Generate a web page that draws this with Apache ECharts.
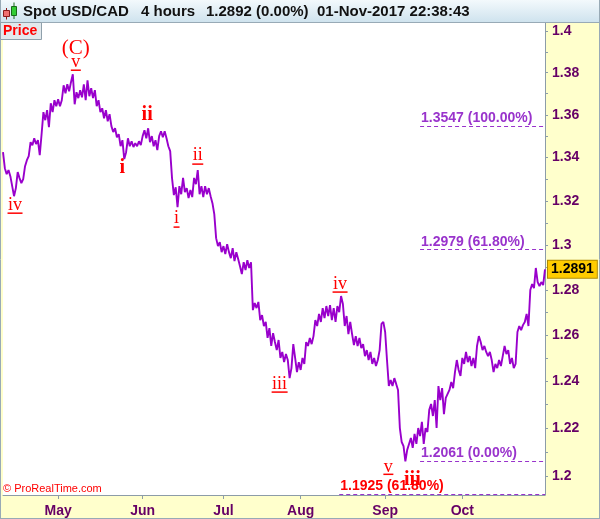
<!DOCTYPE html>
<html><head><meta charset="utf-8">
<script src="https://cdn.jsdelivr.net/npm/echarts@6/dist/echarts.min.js"></script>
<style>html,body{margin:0;padding:0;background:#ffffcc;}#c{width:600px;height:519px;}</style>
</head><body><div id="c"></div>
<script>
// ---------- data ----------
const HEADER_TEXT = ['Spot USD/CAD', '4 hours', '1.2892 (0.00%)', '01-Nov-2017 22:38:43'];
const PANEL_LABEL = 'Price';
const COPYRIGHT = '\u00a9 ProRealTime.com';
const MONTHS = ['Jan','Feb','Mar','Apr','May','Jun','Jul','Aug','Sep','Oct','Nov','Dec'];
const LABELLED_MONTHS = ['05','06','07','08','09','10'];
const FIRST_DAY = '2017-04-10';
const LAST_DAY = '2017-11-01';
const SESSIONS = ['00:00', '12:00'];

const PRICES = [
1.3425,1.3351,1.3323,1.3342,1.3314,1.3306,1.3222,1.3259,1.3333,1.3305,
1.3282,1.3300,1.3360,1.3388,1.3407,1.3472,1.3458,1.3490,1.3463,1.3481,
1.3411,1.3509,1.3613,1.3575,1.3622,1.3542,1.3655,1.3613,1.3669,1.3641,
1.3674,1.3641,1.3669,1.3740,1.3702,1.3745,1.3712,1.3755,1.3793,1.3650,
1.3707,1.3679,1.3717,1.3683,1.3745,1.3669,1.3764,1.3688,1.3726,1.3679,
1.3717,1.3641,1.3669,1.3613,1.3631,1.3584,1.3622,1.3570,1.3603,1.3547,
1.3519,1.3537,1.3495,1.3509,1.3453,1.3481,1.3393,1.3425,1.3490,1.3453,
1.3476,1.3449,1.3467,1.3453,1.3476,1.3458,
1.3500,1.3528,1.3490,1.3537,1.3472,1.3500,1.3453,1.3481,1.3435,1.3500,
1.3523,1.3495,1.3523,1.3490,1.3453,1.3430,1.3305,1.3227,1.3263,1.3172,
1.3268,1.3231,1.3306,1.3241,1.3259,1.3213,1.3250,1.3218,1.3306,1.3277,
1.3342,1.3231,1.3268,1.3218,1.3268,1.3231,1.3259,1.3222,1.3190,1.3140,
1.3031,1.2995,1.3013,1.2968,1.2995,1.2959,1.3004,1.2968,1.2941,1.2986,
1.2928,1.2968,1.2937,1.2905,1.2870,1.2923,1.2888,1.2932,1.2897,1.2923,
1.2710,1.2741,1.2719,1.2746,1.2666,1.2688,1.2640,1.2658,1.2588,1.2631,
1.2553,1.2609,
1.2570,1.2535,1.2579,1.2501,1.2527,1.2483,1.2518,1.2492,1.2414,1.2457,
1.2561,1.2501,1.2440,1.2483,1.2449,1.2501,1.2475,1.2570,1.2553,1.2588,
1.2561,1.2596,1.2666,1.2640,1.2693,1.2658,1.2719,1.2675,1.2728,1.2684,
1.2732,1.2666,1.2719,1.2658,1.2728,1.2701,1.2772,1.2737,1.2640,1.2684,
1.2605,1.2658,1.2605,1.2557,1.2596,1.2553,1.2588,1.2544,1.2561,1.2509,
1.2535,1.2492,1.2527,1.2475,1.2501,1.2466,1.2492,1.2535,1.2649,1.2658,
1.2614,1.2492,1.2380,1.2406,1.2380,1.2414,1.2389,1.2363,1.2201,1.2142,
1.2125,1.2061,1.2109,1.2134,
1.2159,1.2117,1.2176,1.2134,1.2201,1.2167,1.2227,1.2134,1.2201,1.2184,
1.2278,1.2303,1.2252,1.2320,1.2201,1.2380,1.2320,1.2371,1.2260,1.2329,
1.2346,1.2363,1.2397,1.2371,1.2440,1.2492,1.2449,1.2423,1.2501,1.2475,
1.2527,1.2483,1.2509,1.2466,1.2501,1.2457,1.2553,1.2596,1.2570,1.2535,
1.2553,1.2527,1.2509,1.2527,1.2492,1.2440,1.2475,1.2457,1.2492,1.2466,
1.2509,1.2553,1.2518,1.2535,1.2475,1.2501,1.2457,1.2475,1.2614,1.2640,
1.2622,1.2644,1.2658,1.2693,1.2640,1.2799,1.2825,1.2807,1.2897,1.2834,
1.2816,1.2834,1.2821,1.2891
];

const Y_LABELS = [1.2,1.22,1.24,1.26,1.28,1.3,1.32,1.34,1.36,1.38,1.4];
const Y_TICKS = [1.2,1.21,1.22,1.23,1.24,1.25,1.26,1.27,1.28,1.29,1.3,1.31,1.32,1.33,1.34,1.35,1.36,1.37,1.38,1.39,1.4];
const Y_MIN = 1.1921, Y_MAX = 1.404;

const FIB_PRICE = [1.3547, 1.2979, 1.2061, 1.1925];
const FIB_PCT = ['100.00%', '61.80%', '0.00%', '61.80%'];
const FIB_FROM = ['2017-09-14 12:00', '2017-09-14 12:00', '2017-09-14 12:00', '2017-08-15 12:00'];

const WAVE_TEXT = ['(C)', 'v', 'ii', 'i', 'ii', 'i', 'iv', 'iv', 'iii', 'v', 'iii'];
const WAVE_DATE = ['2017-05-05 00:00','2017-05-05 00:00','2017-06-02 12:00','2017-05-25 00:00','2017-06-22 00:00',
  '2017-06-14 12:00','2017-04-13 00:00','2017-08-16 00:00','2017-07-27 00:00','2017-09-08 12:00','2017-09-08 12:00'];
const WAVE_PRICE = [1.3793,1.3793,1.3537,1.3393,1.3342,1.3172,1.3222,1.2772,1.2414,1.2061,1.2061];

// ---------- styles (pixel offsets of the wave labels) ----------
const WAVE_STYLE = [
  {dx: 3, dy: -26, size: 21},
  {dx: 3, dy: -12, size: 18, u: 10, uy: -4},
  {dx: -1, dy: -13, size: 20, bold: true},
  {dx: -2, dy: 9, size: 20, bold: true},
  {dx: 0, dy: -15, size: 18, u: 11, uy: -6},
  {dx: -1, dy: 11, size: 18, u: 6, uy: 20},
  {dx: 1, dy: 9, size: 18, u: 15, uy: 17},
  {dx: -1, dy: -12, size: 18, u: 15, uy: -4},
  {dx: -10, dy: 6, size: 18, u: 16, uy: 14},
  {dx: -17, dy: 6, size: 18, u: 10, uy: 13},
  {dx: 7, dy: 19, size: 20, bold: true}
];
const AXIS_TXT = '#660066';
const SANS = '"Liberation Sans", Arial, sans-serif';
const SERIF = '"Liberation Serif", "Times New Roman", serif';

// ---------- category axis: trading sessions ----------
function buildSessions() {
  const out = [];
  const d = new Date(FIRST_DAY + 'T00:00:00Z');
  const end = new Date(LAST_DAY + 'T00:00:00Z').getTime();
  while (d.getTime() <= end) {
    const wd = d.getUTCDay();
    if (wd !== 0 && wd !== 6) {
      const s = d.toISOString().slice(0, 10);
      SESSIONS.forEach(h => out.push(s + ' ' + h));
    }
    d.setUTCDate(d.getUTCDate() + 1);
  }
  return out;
}
const CATS = buildSessions();
const monthStart = CATS.map((c, i) => i > 0 && c.slice(5, 7) !== CATS[i - 1].slice(5, 7)
  && LABELLED_MONTHS.indexOf(c.slice(5, 7)) >= 0);
const isMonthStart = (i) => !!monthStart[i];

const fibData = FIB_PRICE.map((p, k) => [
  {
    coord: [FIB_FROM[k], p],
    label: {
      formatter: p.toFixed(4) + ' (' + FIB_PCT[k] + ')',
      color: k === 3 ? '#ff0000' : '#9933cc'
    }
  },
  { coord: [CATS[CATS.length - 1], p] }
]);

const chart = echarts.init(document.getElementById('c'), null, {renderer: 'canvas'});
chart.setOption({
  animation: false,
  backgroundColor: '#ffffcc',
  grid: {left: 3, right: 55, top: 23, bottom: 24, show: true, backgroundColor: '#ffffff', borderWidth: 0},
  xAxis: {
    type: 'category', data: CATS, boundaryGap: false,
    axisLine: {show: true, lineStyle: {color: '#8c9ca8', width: 1}},
    axisTick: {show: true, interval: isMonthStart, length: 4, lineStyle: {color: '#8c9ca8'}},
    axisLabel: {
      interval: isMonthStart, margin: 9,
      formatter: (v) => MONTHS[+v.slice(5, 7) - 1],
      color: AXIS_TXT, fontWeight: 'bold', fontSize: 14, fontFamily: SANS
    },
    splitLine: {show: false}
  },
  yAxis: {
    type: 'log', logBase: 10, position: 'right', min: Y_MIN, max: Y_MAX,
    axisLine: {show: true, lineStyle: {color: '#8c9ca8', width: 1}},
    axisTick: {show: true, customValues: Y_TICKS, length: 3, lineStyle: {color: '#8c9ca8'}},
    minorTick: {show: false},
    axisLabel: {
      customValues: Y_LABELS, margin: 7,
      formatter: (v) => String(+(+v).toFixed(2)),
      color: AXIS_TXT, fontWeight: 'bold', fontSize: 14, fontFamily: SANS
    },
    splitLine: {show: false}
  },
  series: [
    {
      type: 'line', data: PRICES, symbol: 'none', showSymbol: false,
      lineStyle: {color: '#9900cc', width: 1.9},
      z: 3,
      endLabel: {
        show: true, distance: 3,
        formatter: (p) => (+p.value).toFixed(4),
        color: '#000', fontWeight: 'bold', fontSize: 14, fontFamily: SANS,
        backgroundColor: '#ffcc00', borderColor: '#b08a00', borderWidth: 1,
        padding: [2, 3, 1, 3]
      },
      markLine: {
        silent: true, symbol: ['none', 'none'], animation: false,
        lineStyle: {color: '#9933cc', type: [4, 3], width: 1.2},
        label: {show: true, position: 'insideStartTop', distance: 1,
          fontWeight: 'bold', fontSize: 14, fontFamily: SANS},
        data: fibData
      }
    },
    {
      type: 'custom', coordinateSystem: 'cartesian2d', silent: true, clip: false, z: 6,
      data: WAVE_DATE.map((d, k) => [d, WAVE_PRICE[k]]),
      renderItem: (params, api) => {
        const k = params.dataIndex;
        const st = WAVE_STYLE[k];
        const p = api.coord([api.value(0), api.value(1)]);
        const cx = p[0] + st.dx;
        const children = [{
          type: 'text',
          style: {
            text: WAVE_TEXT[k], x: cx, y: p[1] + st.dy,
            align: 'center', verticalAlign: 'middle',
            font: (st.bold ? 'bold ' : '') + st.size + 'px ' + SERIF,
            fill: '#ff0000'
          }
        }];
        if (st.u) {
          children.push({
            type: 'line',
            shape: {x1: cx - st.u / 2, y1: p[1] + st.uy, x2: cx + st.u / 2, y2: p[1] + st.uy},
            style: {stroke: '#ff0000', lineWidth: 1.5}
          });
        }
        return {type: 'group', children};
      }
    }
  ],
  graphic: [
    {type: 'rect', z: 100, shape: {x: 0, y: 0, width: 600, height: 22},
      style: {fill: {type: 'linear', x: 0, y: 0, x2: 0, y2: 1,
        colorStops: [{offset: 0, color: '#f3f9fc'}, {offset: 1, color: '#cfe3ee'}]}}},
    {type: 'line', z: 101, shape: {x1: 0, y1: 22.5, x2: 600, y2: 22.5}, style: {stroke: '#98aab6', lineWidth: 1}},
    {type: 'line', z: 101, shape: {x1: 0.5, y1: 0, x2: 0.5, y2: 519}, style: {stroke: '#98aab6', lineWidth: 1}},
    {type: 'line', z: 101, shape: {x1: 599.5, y1: 0, x2: 599.5, y2: 519}, style: {stroke: '#98aab6', lineWidth: 1}},
    {type: 'line', z: 101, shape: {x1: 0, y1: 518.5, x2: 600, y2: 518.5}, style: {stroke: '#98aab6', lineWidth: 1}},
    // candle icon
    {type: 'line', z: 102, shape: {x1: 6.5, y1: 8, x2: 6.5, y2: 19.5}, style: {stroke: '#8a1a1a', lineWidth: 1}},
    {type: 'rect', z: 103, shape: {x: 3.5, y: 10.5, width: 6, height: 6}, style: {fill: '#f07070', stroke: '#8a1a1a', lineWidth: 1}},
    {type: 'line', z: 102, shape: {x1: 14, y1: 2.5, x2: 14, y2: 19}, style: {stroke: '#1a6a1a', lineWidth: 1}},
    {type: 'rect', z: 103, shape: {x: 11.5, y: 6.5, width: 5, height: 9}, style: {fill: '#33cc33', stroke: '#1a6a1a', lineWidth: 1}},
    // header texts
    {type: 'text', z: 104, style: {text: HEADER_TEXT[0], x: 23, y: 12, verticalAlign: 'middle', font: 'bold 15px ' + SANS, fill: '#111'}},
    {type: 'text', z: 104, style: {text: HEADER_TEXT[1], x: 141, y: 12, verticalAlign: 'middle', font: 'bold 15px ' + SANS, fill: '#111'}},
    {type: 'text', z: 104, style: {text: HEADER_TEXT[2], x: 206, y: 12, verticalAlign: 'middle', font: 'bold 15px ' + SANS, fill: '#111'}},
    {type: 'text', z: 104, style: {text: HEADER_TEXT[3], x: 317, y: 12, verticalAlign: 'middle', font: 'bold 15px ' + SANS, fill: '#111'}},
    // Price tab
    {type: 'rect', z: 104, shape: {x: 0.5, y: 22.5, width: 41, height: 17}, style: {fill: '#e2e9ed', stroke: '#8fa0ab', lineWidth: 1}},
    {type: 'text', z: 105, style: {text: PANEL_LABEL, x: 3, y: 31.5, verticalAlign: 'middle', font: 'bold 14px ' + SANS, fill: '#ff0000'}},
    // copyright
    {type: 'text', z: 104, style: {text: COPYRIGHT, x: 3, y: 489, verticalAlign: 'middle', font: '11px ' + SANS, fill: '#ff0000'}}
  ]
});
</script></body></html>
